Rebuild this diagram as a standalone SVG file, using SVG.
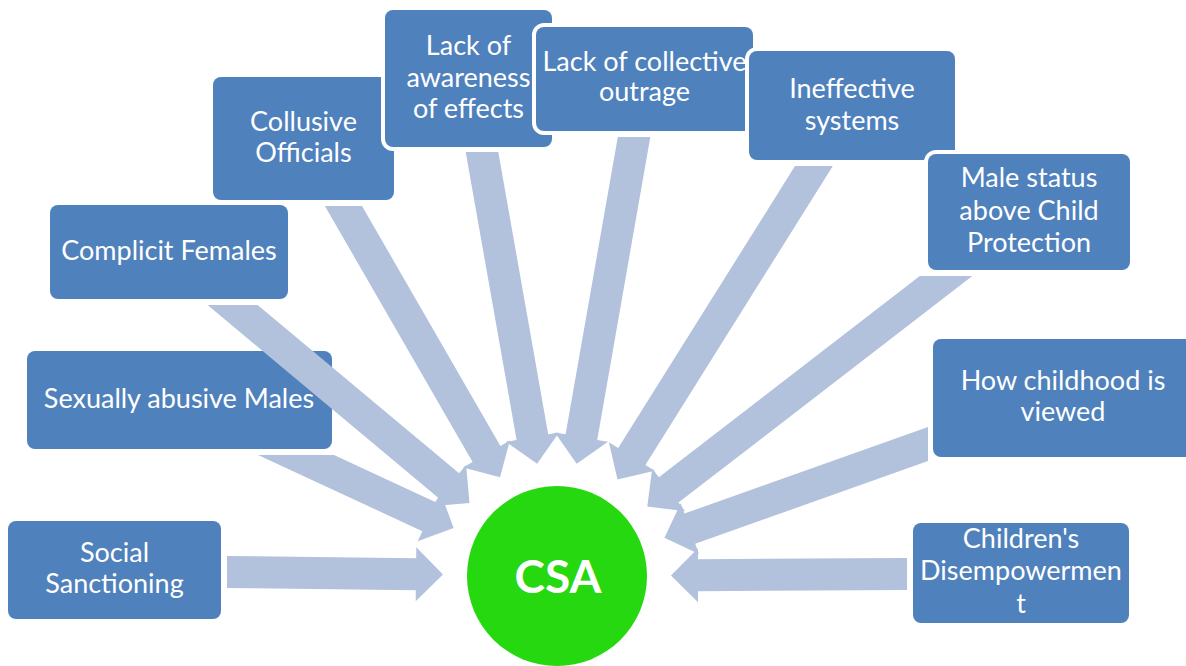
<svg xmlns="http://www.w3.org/2000/svg" width="1186" height="666" viewBox="0 0 1186 666">
<style>
.box{fill:#4F81BD;stroke:#FFFFFF;stroke-width:8;paint-order:stroke}
.lbl{font-family:Lato,"Liberation Sans",sans-serif;font-size:27px;fill:#FFFFFF;text-anchor:middle}
.arr{fill:#B2C1DC}
.csa{font-family:Lato,"Liberation Sans",sans-serif;font-size:46px;font-weight:bold;fill:#FFFFFF;text-anchor:middle}
</style>
<rect width="1186" height="666" fill="#FFFFFF"/>
<g id="n-social"><rect class="box" x="8" y="521" width="213" height="98" rx="8"/><text class="lbl" x="114.5" y="562">Social</text><text class="lbl" x="114.5" y="593">Sanctioning</text></g>
<g id="n-males"><rect class="box" x="27" y="351" width="305" height="98" rx="8"/><text class="lbl" x="179" y="408">Sexually abusive Males</text></g>
<g id="n-complicit"><rect class="box" x="50" y="205" width="238" height="94" rx="8"/><text class="lbl" x="169" y="260">Complicit Females</text></g>
<g id="n-collusive"><rect class="box" x="213" y="77" width="181" height="123" rx="8"/><text class="lbl" x="303.5" y="131">Collusive</text><text class="lbl" x="303.5" y="162">Officials</text></g>
<g id="n-awareness"><rect class="box" x="385" y="10" width="167" height="137" rx="8"/><text class="lbl" x="468.5" y="55">Lack of</text><text class="lbl" x="468.5" y="87">awareness</text><text class="lbl" x="468.5" y="118">of effects</text></g>
<g id="n-outrage"><rect class="box" x="536" y="27" width="217" height="104" rx="8"/><text class="lbl" x="644.5" y="71">Lack of collective</text><text class="lbl" x="644.5" y="101">outrage</text></g>
<g id="n-ineffective"><rect class="box" x="749" y="51" width="206" height="109" rx="8"/><text class="lbl" x="852" y="98">Ineffective</text><text class="lbl" x="852" y="130">systems</text></g>
<g id="n-male-status"><rect class="box" x="928" y="154" width="202" height="116" rx="8"/><text class="lbl" x="1029" y="187">Male status</text><text class="lbl" x="1029" y="220">above Child</text><text class="lbl" x="1029" y="252">Protection</text></g>
<g id="n-childhood"><rect class="box" x="933" y="339" width="260" height="118" rx="8"/><text class="lbl" x="1063" y="390">How childhood is</text><text class="lbl" x="1063" y="421">viewed</text></g>
<g id="n-disempower"><rect class="box" x="913" y="523" width="216" height="100" rx="8"/><text class="lbl" x="1021" y="548">Children's</text><text class="lbl" x="1021" y="580">Disempowermen</text><text class="lbl" x="1021" y="613">t</text></g>
<g id="connectors">
<polygon class="arr" points="227,556 416.2,558.3 416.3,547.3 443,574.6 415.7,601.3 415.8,590.3 227,588"/>
<polygon class="arr" points="258,455 334,455 435.8,502.2 440.5,492.2 453.6,528.1 417.7,541.2 422.4,531.2"/>
<polygon class="arr" points="207.6,305 257.6,305 459.1,473.3 466.1,464.9 469.5,502.9 431.5,506.3 438.5,497.9"/>
<polygon class="arr" points="324.9,206 362,206 500.4,445.9 509.9,440.4 500,477.3 463.1,467.4 472.6,461.9"/>
<polygon class="arr" points="465.7,152 498.3,152 548.2,434.3 559,432.4 537.1,463.7 505.8,441.8 516.6,439.9"/>
<polygon class="arr" points="617.8,137 650.3,137 597.2,439.9 608,441.8 576.7,463.7 554.8,432.4 565.6,434.3"/>
<polygon class="arr" points="795,166 832.8,166 645.4,465 654.7,470.8 617.5,479.4 608.9,442.2 618.2,448"/>
<polygon class="arr" points="919.8,276 972.3,276 678.5,502.6 685.2,511.3 647.3,506.4 652.2,468.5 658.9,477.2"/>
<polygon class="arr" points="928,426.9 928,461 695.2,543.8 698.9,554.1 664.4,537.8 680.7,503.3 684.4,513.6"/>
<polygon class="arr" points="907,558 907,590 698,591.2 698,602.2 671,575.4 698,548.2 698,559.2"/>
</g>
<g id="n-csa"><circle cx="557" cy="576" r="90" fill="#25D80F"/><text class="csa" x="558" y="593">CSA</text></g>
</svg>
